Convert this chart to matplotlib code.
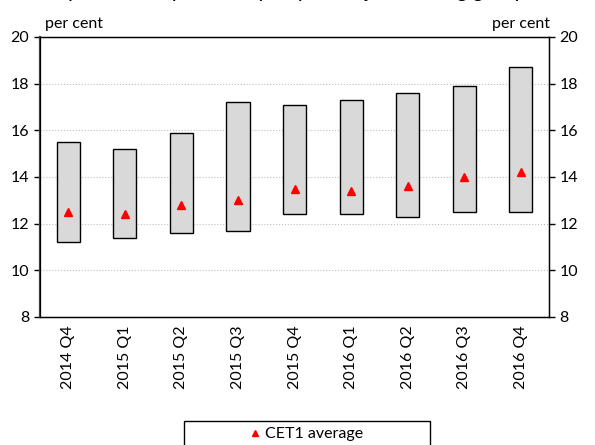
import numpy as np
import matplotlib
matplotlib.use('Agg')
import matplotlib.pyplot as plt
from matplotlib.lines import Line2D
from matplotlib.patches import Rectangle

plt.rcParams['font.family'] = ['Lato', 'DejaVu Sans']

quarters = ['2014 Q4', '2015 Q1', '2015 Q2', '2015 Q3', '2015 Q4',
            '2016 Q1', '2016 Q2', '2016 Q3', '2016 Q4']
range_min = [11.2, 11.4, 11.6, 11.7, 12.4, 12.4, 12.3, 12.5, 12.5]
range_max = [15.5, 15.2, 15.9, 17.2, 17.1, 17.3, 17.6, 17.9, 18.7]
cet1_avg = [12.5, 12.4, 12.8, 13.0, 13.5, 13.4, 13.6, 14.0, 14.2]

FS = 11.5

fig = plt.figure(figsize=(5.95, 4.45), dpi=100)
ax = fig.add_axes([0.067, 0.288, 0.856, 0.629])

x = np.arange(len(quarters))
lo = np.array(range_min)
hi = np.array(range_max)
ax.bar(x, hi - lo, bottom=lo, width=0.41, color='#d9d9d9',
       edgecolor='black', linewidth=1.0, zorder=3)
ax.plot(x, cet1_avg, linestyle='none', marker='^', color='#ff0000',
        markersize=6, zorder=4)

ax.set_xlim(-0.5, len(quarters) - 0.5)
ax.set_ylim(8, 20)
ax.set_yticks(range(8, 21, 2))
ax.set_xticks(x)
ax.set_xticklabels(quarters, rotation=90, fontsize=FS)
ax.tick_params(axis='x', length=0, pad=6)
ax.tick_params(axis='y', direction='out', length=4, labelsize=FS, width=1)
ax.grid(True, axis='y', linestyle=':', color='#bfbfbf', linewidth=0.8, zorder=0)
for s in ax.spines.values():
    s.set_linewidth(1.0)
ax.spines['left'].set_color('#404040')
ax.spines['left'].set_linewidth(1.6)

ax2 = ax.twinx()
ax2.set_ylim(8, 20)
ax2.set_yticks(range(8, 21, 2))
ax2.tick_params(axis='y', direction='out', length=4, labelsize=FS, width=1)

fig.text(0.076, 0.93, 'per cent', fontsize=FS, ha='left', va='bottom')
fig.text(0.924, 0.93, 'per cent', fontsize=FS, ha='right', va='bottom')

# title is clipped by the top edge in the reference; only descenders show
fig.text(0.5, 1.006, 'Spread of capital adequacy of major banking groups',
         fontsize=16, style='italic', ha='center', va='baseline')

# legend box spans wider than its single entry
fig.patches.append(Rectangle((184 / 595, -0.05), 246 / 595, 0.104,
                             transform=fig.transFigure, facecolor='white',
                             edgecolor='black', linewidth=1.0, zorder=1))
handle = Line2D([], [], linestyle='none', marker='^', color='#ff0000', markersize=5)
fig.legend(handles=[handle], labels=['CET1 average'], loc='center',
           bbox_to_anchor=(0.515, 0.024), frameon=False, fontsize=FS,
           handlelength=0.6, handletextpad=0.3, borderaxespad=0)

fig.savefig('out.png', dpi=100)
